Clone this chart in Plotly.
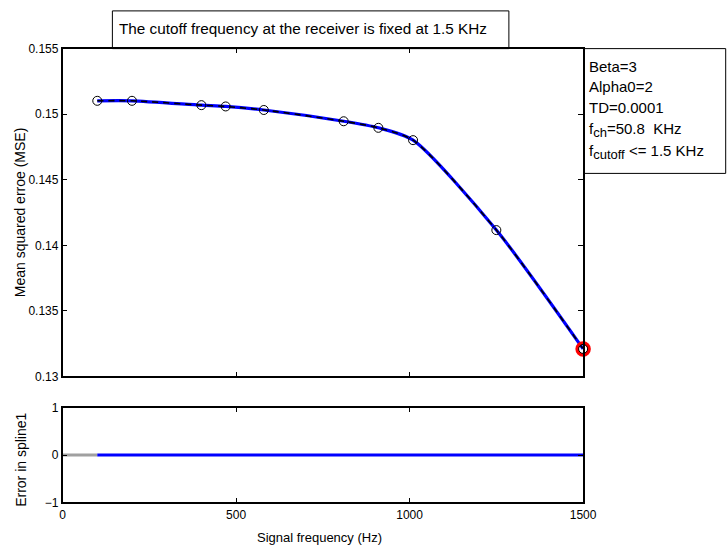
import plotly.graph_objects as go

# ---- data ----
freq = [100, 200, 400, 470, 580, 810, 910, 1010, 1250, 1500]
mse = [0.15102, 0.15102, 0.15069, 0.15059, 0.15032, 0.14946, 0.14896, 0.14802, 0.14116, 0.1321]
err_gray_x = [0, 100]
err_gray = [0, 0]
err = [0, 0, 0, 0, 0, 0, 0, 0, 0, 0]
x_ticks = [0, 500, 1000, 1500]
y_ticks_top = [0.13, 0.135, 0.14, 0.145, 0.15, 0.155]
y_tick_labels_top = ["0.13", "0.135", "0.14", "0.145", "0.15", "0.155"]
y_ticks_bot = [-1, 0, 1]
info_lines = ["Beta=3", "Alpha0=2", "TD=0.0001",
              "f<sub><span style='font-size:13px'>ch</span></sub>=50.8  KHz",
              "f<sub><span style='font-size:13px'>cutoff</span></sub> &lt;= 1.5 KHz"]
title_text = "The cutoff frequency at the receiver is fixed at 1.5 KHz"

W, H = 727, 555
FONT = "Arial, Liberation Sans, sans-serif"

def px(x):
    return x / W

def py(y):
    return 1 - y / H

fig = go.Figure()

# top plot
fig.add_trace(go.Scatter(x=freq, y=mse, mode="lines", line=dict(color="#0000FF", width=3.2, shape="spline", smoothing=0.7),
                         xaxis="x", yaxis="y", showlegend=False, hoverinfo="skip"))
fig.add_trace(go.Scatter(x=freq, y=mse, mode="lines", line=dict(color="black", width=1.6, shape="spline", smoothing=0.7, dash="6px,5px"),
                         xaxis="x", yaxis="y", showlegend=False, hoverinfo="skip"))
fig.add_trace(go.Scatter(x=freq[-1:], y=mse[-1:], mode="markers",
                         marker=dict(symbol="circle-open", size=12, color="#FF0000", line=dict(width=3.5, color="#FF0000")),
                         xaxis="x", yaxis="y", showlegend=False, cliponaxis=False))
fig.add_trace(go.Scatter(x=freq, y=mse, mode="markers",
                         marker=dict(symbol="circle-open", size=9, color="black", line=dict(width=1, color="black")),
                         xaxis="x", yaxis="y", showlegend=False, cliponaxis=False))

# bottom plot
fig.add_trace(go.Scatter(x=err_gray_x, y=err_gray, mode="lines", line=dict(color="#A0A0A0", width=3),
                         xaxis="x2", yaxis="y2", showlegend=False))
fig.add_trace(go.Scatter(x=freq, y=err, mode="lines", line=dict(color="#0000FF", width=3),
                         xaxis="x2", yaxis="y2", showlegend=False))

axis_common = dict(showgrid=False, zeroline=False, showline=True, linecolor="black", linewidth=1.5,
                   mirror="ticks", ticks="inside", ticklen=5, tickcolor="black", tickwidth=1,
                   tickfont=dict(family=FONT, size=12, color="black"))

fig.update_layout(
    width=W, height=H,
    margin=dict(l=0, r=0, t=0, b=0),
    paper_bgcolor="white", plot_bgcolor="white",
    xaxis=dict(domain=[px(61), px(594)], range=[0, 1500], anchor="y", tickvals=x_ticks,
               showticklabels=False, **axis_common),
    yaxis=dict(domain=[py(379), py(42.7)], range=[0.13, 0.155], anchor="x", tickvals=y_ticks_top,
               ticktext=y_tick_labels_top, **axis_common),
    xaxis2=dict(domain=[px(61), px(594)], range=[0, 1500], anchor="y2", tickvals=x_ticks, **axis_common),
    yaxis2=dict(domain=[py(508.3), py(411)], range=[-1, 1], anchor="x2", tickvals=y_ticks_bot, **axis_common),
)

# title box
fig.add_shape(type="rect", xref="paper", yref="paper", x0=px(112), x1=px(518), y0=py(42.7), y1=py(4),
              line=dict(color="black", width=1), fillcolor="white", layer="below")
fig.add_annotation(text=title_text, xref="paper", yref="paper", x=px(307), y=py(22), showarrow=False,
                   xanchor="center", yanchor="middle", font=dict(family=FONT, size=15.3, color="black"))

# info box
fig.add_shape(type="rect", xref="paper", yref="paper", x0=px(594.5), x1=px(740), y0=py(170.7), y1=py(42.7),
              line=dict(color="black", width=1), fillcolor="white", layer="below")
info_y = [61, 82, 103, 126, 149]
for t, yy in zip(info_lines, info_y):
    fig.add_annotation(text=t, xref="paper", yref="paper", x=px(598), y=py(yy), showarrow=False,
                       xanchor="left", yanchor="middle", align="left",
                       font=dict(family=FONT, size=15, color="black"))

# axis titles
fig.add_annotation(text="Mean squared erroe (MSE)", xref="paper", yref="paper", x=px(17), y=py(211),
                   showarrow=False, textangle=-90, xanchor="center", yanchor="middle",
                   font=dict(family=FONT, size=14, color="black"))
fig.add_annotation(text="Error in spline1", xref="paper", yref="paper", x=px(19), y=py(465),
                   showarrow=False, textangle=-90, xanchor="center", yanchor="middle",
                   font=dict(family=FONT, size=14, color="black"))
fig.add_annotation(text="Signal frequency (Hz)", xref="paper", yref="paper", x=px(324), y=py(544),
                   showarrow=False, xanchor="center", yanchor="middle",
                   font=dict(family=FONT, size=13, color="black"))

fig.write_html("out.html")
